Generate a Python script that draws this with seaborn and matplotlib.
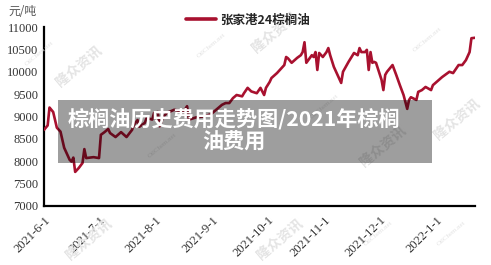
import matplotlib
matplotlib.use("Agg")
import matplotlib.pyplot as plt
import seaborn as sns
import pandas as pd
from matplotlib.lines import Line2D
from matplotlib.patches import Rectangle

dates = [
    "2021-06-01", "2021-06-03", "2021-06-04", "2021-06-05", "2021-06-06", "2021-06-08",
    "2021-06-10", "2021-06-12", "2021-06-15", "2021-06-16", "2021-06-17", "2021-06-18",
    "2021-06-20", "2021-06-22", "2021-06-23", "2021-06-24", "2021-06-28", "2021-07-01",
    "2021-07-02", "2021-07-04", "2021-07-06", "2021-07-07", "2021-07-10", "2021-07-13",
    "2021-07-16", "2021-07-19", "2021-07-20", "2021-07-22", "2021-07-23", "2021-07-26",
    "2021-07-27", "2021-07-30", "2021-07-31", "2021-08-02", "2021-08-03", "2021-08-05",
    "2021-08-07", "2021-08-11", "2021-08-16", "2021-08-18", "2021-08-19", "2021-08-23",
    "2021-08-27", "2021-08-31", "2021-09-04", "2021-09-06", "2021-09-08", "2021-09-10",
    "2021-09-12", "2021-09-14", "2021-09-17", "2021-09-18", "2021-09-20", "2021-09-22",
    "2021-09-25", "2021-09-27", "2021-09-29", "2021-09-30", "2021-10-02", "2021-10-03",
    "2021-10-06", "2021-10-10", "2021-10-11", "2021-10-12", "2021-10-14", "2021-10-17",
    "2021-10-19", "2021-10-20", "2021-10-21", "2021-10-22", "2021-10-25", "2021-10-26",
    "2021-10-27", "2021-10-28", "2021-10-29", "2021-10-31", "2021-11-02", "2021-11-03",
    "2021-11-04", "2021-11-06", "2021-11-10", "2021-11-11", "2021-11-14", "2021-11-17",
    "2021-11-19", "2021-11-20", "2021-11-21", "2021-11-23", "2021-11-24", "2021-11-25",
    "2021-11-26", "2021-11-27", "2021-11-28", "2021-11-29", "2021-12-02", "2021-12-03",
    "2021-12-04", "2021-12-05", "2021-12-08", "2021-12-10", "2021-12-12", "2021-12-14",
    "2021-12-16", "2021-12-17", "2021-12-18", "2021-12-21", "2021-12-22", "2021-12-24",
    "2021-12-26", "2021-12-29", "2021-12-30", "2022-01-04", "2022-01-08", "2022-01-10",
    "2022-01-13", "2022-01-15", "2022-01-17", "2022-01-19", "2022-01-20", "2022-01-22",
]
prices = [
    8700, 8800, 9200, 9150, 9100, 8750,
    8660, 8300, 8030, 7990, 8080, 7760,
    7850, 7960, 8270, 8070, 8090, 8070,
    8590, 8650, 8720, 8630, 8540, 8650,
    8540, 8700, 8810, 8920, 8770, 8860,
    8970, 8930, 9080, 9100, 8780, 8990,
    9080, 9150, 9100, 9230, 8930, 8980,
    9000, 9050, 9190, 9260, 9300, 9300,
    9410, 9480, 9450, 9520, 9640, 9560,
    9520, 9640, 9480, 9640, 9770, 9860,
    9970, 10150, 10330, 10300, 10200, 10310,
    10370, 10440, 10660, 10200, 10370, 10330,
    10440, 10040, 10420, 10330, 10440, 10530,
    10370, 10110, 9750, 10000, 10220, 10420,
    10370, 10530, 10440, 10440, 10490, 10040,
    10440, 10200, 10220, 10200, 9820, 9590,
    9930, 10000, 10150, 9930, 9700, 9480,
    9170, 9370, 9430, 9370, 9550, 9590,
    9660, 9590, 9700, 9880, 10000, 9970,
    10150, 10150, 10260, 10440, 10750, 10760,
]
series_name = "张家港24棕榈油"
x_tick_labels = ["2021-6-1", "2021-7-1", "2021-8-1", "2021-9-1",
                 "2021-10-1", "2021-11-1", "2021-12-1", "2022-1-1"]
y_ticks = [7000, 7500, 8000, 8500, 9000, 9500, 10000, 10500, 11000]
unit_label = "元/吨"
banner_text = "棕榈油历史费用走势图/2021年棕榈\n油费用"

sns.set_style("white")
plt.rcParams['font.family'] = ['Noto Sans CJK SC', 'DejaVu Sans']

df = pd.DataFrame({"date": pd.to_datetime(dates), "price": prices, "series": series_name})

fig = plt.figure(figsize=(4.91, 2.65), dpi=100)
ax = fig.add_axes([0.0896, 0.223, 0.878, 0.675])

line_color = "#a8112f"
sns.lineplot(data=df, x="date", y="price", hue="series", palette=[line_color],
             linewidth=1.9, ax=ax, legend=False, zorder=3)

ax.set_xlim(pd.Timestamp("2021-06-01"), pd.Timestamp("2022-01-22"))
ax.set_ylim(7000, 11000)
ax.set_yticks(y_ticks)
ax.set_yticklabels([str(v) for v in y_ticks], family=['Liberation Serif'],
                   fontsize=9, color="#333333")
xt = pd.to_datetime(x_tick_labels, format="%Y-%m-%d")
ax.set_xticks(xt)
ax.set_xticklabels(x_tick_labels, rotation=45, ha="right", rotation_mode="anchor",
                   family=['Liberation Serif'], fontsize=9, color="#333333")
ax.set_xlabel("")
ax.set_ylabel("")
for s in ["top", "right"]:
    ax.spines[s].set_visible(False)
for s in ["left", "bottom"]:
    ax.spines[s].set_color("black")
    ax.spines[s].set_linewidth(1.6)
ax.tick_params(axis="both", direction="in", length=4, width=1.4, color="black")
ax.tick_params(axis="y", pad=4)
ax.tick_params(axis="x", pad=6)
ax.grid(False)

# unit label
fig.text(0.018, 0.955, unit_label, fontsize=8.5, color="#555555",
         ha="left", va="center", family=['Noto Sans CJK SC'])

# legend
handle = Line2D([0], [0], color=line_color, linewidth=2.6)
fig.legend([handle], [series_name], loc="center", bbox_to_anchor=(0.505, 0.925),
           frameon=False, handlelength=2.4, handletextpad=0.3,
           prop={'family': ['Noto Sans CJK SC'], 'weight': 'bold', 'size': 9})

# watermarks
wm_color = "#e4e4e4"
for (x, y) in [(0.16, 0.75), (0.56, 0.88), (0.78, 0.45), (0.18, 0.1), (0.57, 0.1), (0.93, 0.55)]:
    fig.text(x, y, "隆众资讯", fontsize=10, color=wm_color, rotation=40,
             ha="center", va="center", weight="bold", zorder=0)
for (x, y) in [(0.08, 0.8), (0.43, 0.83), (0.87, 0.85), (0.33, 0.45), (0.66, 0.6), (0.77, 0.12), (0.92, 0.12)]:
    fig.text(x, y, "OilChem.net", fontsize=5, color=wm_color, rotation=40,
             ha="center", va="center", family=['Liberation Serif'], zorder=0)

# banner
fig.patches.append(Rectangle((58 / 491, 1 - 163 / 265), (432 - 58) / 491, 63 / 265,
                             transform=fig.transFigure, facecolor="black", alpha=0.38,
                             edgecolor="none", zorder=10))
fig.text(234 / 491, 1 - 131 / 265, banner_text, fontsize=15.2, color="white",
         weight="bold", ha="center", va="center", linespacing=1.1,
         family=['Noto Sans CJK SC', 'DejaVu Sans'], zorder=11)

fig.savefig("out.png", dpi=100)
